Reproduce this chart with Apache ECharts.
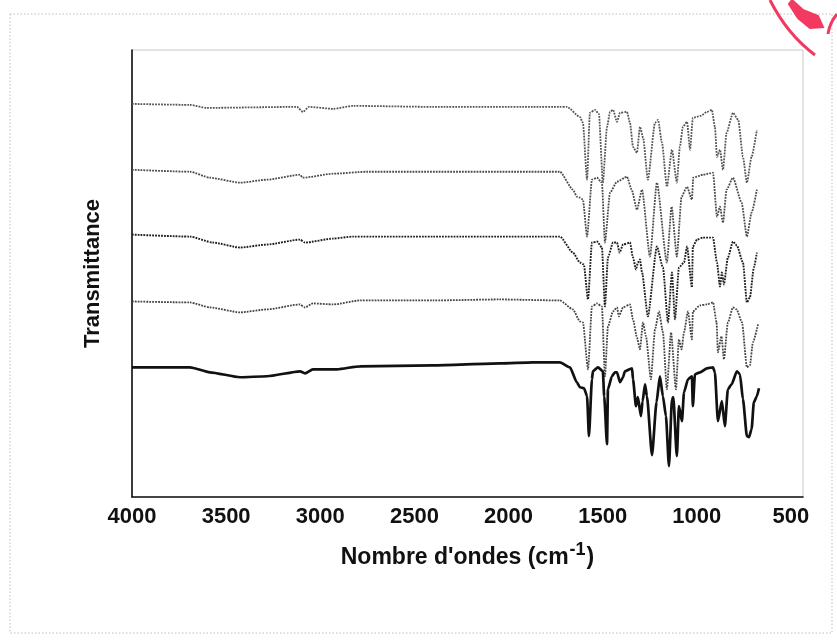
<!DOCTYPE html>
<html>
<head>
<meta charset="utf-8">
<script src="https://cdn.jsdelivr.net/npm/echarts@6/dist/echarts.min.js"></script>
<style>
html,body{margin:0;padding:0;background:#fff;}
#c{width:837px;height:642px;}
</style>
</head>
<body>
<div id="c"></div>
<script>
// Wavenumber (cm-1) / transmittance (arbitrary units, stacked offsets)
const xTicks = [500, 1000, 1500, 2000, 2500, 3000, 3500, 4000];

const spectrum1 = [
  [4000,394],[3692,393],[3602,390],[3124,391],[3092,386],[3060,391],[2932,389],[2826,392],
  [2401,391],[1870,391],[1727,391],[1690,391],[1621,381],[1605,375],[1583,318],[1568,385],
  [1541,388],[1520,384],[1499,315],[1477,371],[1461,386],[1445,388],[1424,376],[1408,385],
  [1371,386],[1355,375],[1339,351],[1318,345],[1302,371],[1285,360],[1260,318],[1222,375],
  [1206,378],[1185,355],[1159,311],[1132,348],[1106,315],[1090,351],[1074,371],[1052,376],
  [1036,348],[1021,380],[980,382],[946,386],[920,388],[904,371],[893,341],[877,348],
  [861,328],[842,365],[808,385],[780,378],[755,341],[734,315],[709,341],[681,368]
];
const spectrum2 = [
  [4000,328],[3692,326],[3586,320],[3426,315],[3283,318],[3108,323],[3092,320],[2932,324],
  [2752,326],[1727,326],[1658,308],[1637,301],[1621,300],[1605,298],[1583,261],[1557,318],
  [1530,320],[1504,315],[1488,255],[1461,305],[1424,316],[1371,321],[1346,308],[1318,288],
  [1291,308],[1249,241],[1212,315],[1159,235],[1134,291],[1106,241],[1081,301],[1052,311],
  [1026,298],[1019,320],[967,323],[914,325],[893,281],[877,291],[861,275],[842,308],
  [808,320],[762,295],[734,261],[709,285],[681,308]
];
const spectrum3 = [
  [4000,263],[3692,261],[3570,255],[3426,250],[3283,253],[3108,258],[3081,255],[2932,259],
  [2826,261],[2401,261],[1727,261],[1658,245],[1621,235],[1600,233],[1578,198],[1557,255],
  [1530,256],[1504,250],[1488,191],[1472,240],[1445,255],[1424,255],[1410,245],[1392,253],
  [1355,255],[1339,240],[1323,228],[1313,235],[1302,238],[1291,225],[1260,181],[1212,251],
  [1180,230],[1153,175],[1132,225],[1116,178],[1095,230],[1068,235],[1052,251],[1026,210],
  [1021,251],[999,258],[967,260],[914,260],[893,235],[877,211],[867,225],[856,213],
  [835,240],[808,256],[787,252],[755,235],[734,195],[718,200],[697,230],[681,245]
];
const spectrum4 = [
  [4000,196],[3692,195],[3586,190],[3426,185],[3283,188],[3108,193],[3081,190],[3039,194],
  [2932,193],[2789,197],[2401,197],[2046,198],[1727,197],[1658,188],[1621,176],[1605,175],
  [1578,128],[1557,191],[1530,194],[1504,191],[1488,121],[1472,171],[1445,186],[1424,190],
  [1414,181],[1392,190],[1355,193],[1339,178],[1318,160],[1302,148],[1286,175],[1270,161],
  [1244,118],[1222,168],[1201,186],[1180,165],[1159,108],[1137,165],[1111,108],[1095,158],
  [1081,148],[1068,165],[1047,186],[1026,158],[1021,186],[983,192],[946,193],[914,195],
  [895,175],[888,145],[869,161],[856,138],[835,175],[808,190],[789,188],[760,175],
  [734,130],[718,132],[702,155],[675,173]
];
const spectrum5 = [
  [4000,130],[3692,130],[3586,125],[3426,120],[3283,121],[3108,126],[3081,124],[3039,128],
  [2911,128],[2789,131],[2401,132],[2046,134],[1870,135],[1727,135],[1674,130],[1637,115],
  [1621,110],[1599,109],[1583,101],[1573,61],[1557,118],[1552,126],[1525,130],[1499,126],
  [1492,101],[1477,53],[1472,108],[1451,121],[1435,125],[1424,125],[1408,115],[1392,120],
  [1382,126],[1344,129],[1339,118],[1323,91],[1313,100],[1297,81],[1288,96],[1275,113],
  [1265,101],[1238,42],[1214,95],[1196,121],[1180,101],[1164,81],[1148,31],[1132,98],
  [1125,100],[1106,41],[1095,91],[1079,76],[1068,105],[1047,118],[1026,121],[1021,91],
  [1010,123],[983,125],[946,129],[914,130],[904,125],[888,76],[867,96],[851,71],
  [835,108],[815,113],[787,126],[771,123],[755,98],[734,61],[723,60],[709,68],
  [697,95],[681,101],[670,109]
];

const FONT = 'Liberation Sans, Arial, sans-serif';
const dotted = (color, w) => ({ color: color, width: w, type: [1.8, 1.1] });

function mk(data, ls) {
  return { type: 'line', data: data, showSymbol: false, symbol: 'none',
           smooth: 0.2, smoothMonotone: 'x', lineStyle: ls, animation: false, silent: true };
}

const chart = echarts.init(document.getElementById('c'), null, { renderer: 'canvas' });
chart.setOption({
  backgroundColor: '#fff',
  animation: false,
  grid: { left: 132, right: 34, top: 50, bottom: 145, show: true, borderColor: '#c8c8c8', borderWidth: 1 },
  xAxis: {
    type: 'value', inverse: true, min: 436, max: 4000,
    axisLine: { show: true, lineStyle: { color: '#111', width: 1.6 } },
    axisTick: { show: false },
    splitLine: { show: false },
    axisLabel: {
      customValues: xTicks, margin: 9,
      formatter: (v) => String(v),
      fontFamily: FONT, fontWeight: 'bold', fontSize: 22, color: '#111'
    },
    name: "Nombre d'ondes (cm{sup|-1})",
    nameLocation: 'middle', nameGap: 44,
    nameTextStyle: {
      fontFamily: FONT, fontWeight: 'bold', fontSize: 23, color: '#111',
      rich: { sup: { fontFamily: FONT, fontWeight: 'bold', fontSize: 18, color: '#111', padding: [0, 1, 16, 1] } }
    }
  },
  yAxis: {
    type: 'value', min: 0, max: 448,
    axisLine: { show: true, lineStyle: { color: '#111', width: 1.6 } },
    axisTick: { show: false }, axisLabel: { show: false }, splitLine: { show: false },
    name: 'Transmittance', nameLocation: 'middle', nameGap: 28, nameRotate: 90,
    nameTextStyle: { fontFamily: FONT, fontWeight: 'bold', fontSize: 22, color: '#111' }
  },
  series: [
    mk(spectrum1, dotted('#555555', 1.8)),
    mk(spectrum2, dotted('#4a4a4a', 1.8)),
    mk(spectrum3, dotted('#1e1e1e', 1.9)),
    mk(spectrum4, dotted('#444444', 1.8)),
    mk(spectrum5, { color: '#111', width: 2.7, type: 'solid' })
  ],
  graphic: [
    { type: 'rect', shape: { x: 10, y: 14, width: 822, height: 619 }, silent: true,
      style: { fill: 'none', stroke: '#bdbdbd', lineWidth: 1, lineDash: [1.5, 2] } },
    { type: 'bezierCurve', silent: true,
      shape: { x1: 770, y1: 0, cpx1: 780, cpy1: 20, cpx2: 795, cpy2: 40, x2: 815, y2: 55 },
      style: { fill: 'none', stroke: '#f23a60', lineWidth: 3 } },
    { type: 'polygon', silent: true,
      shape: { points: [[792, 0], [803, 10], [818, 16], [823, 27], [810, 28], [798, 18], [789, 4]] },
      style: { fill: '#f23a60', stroke: '#f23a60', lineWidth: 2 } },
    { type: 'bezierCurve', silent: true,
      shape: { x1: 837, y1: 14, cpx1: 832, cpy1: 20, cpx2: 829, cpy2: 27, x2: 828, y2: 34 },
      style: { fill: 'none', stroke: '#f23a60', lineWidth: 3 } }
  ]
});
</script>
</body>
</html>
